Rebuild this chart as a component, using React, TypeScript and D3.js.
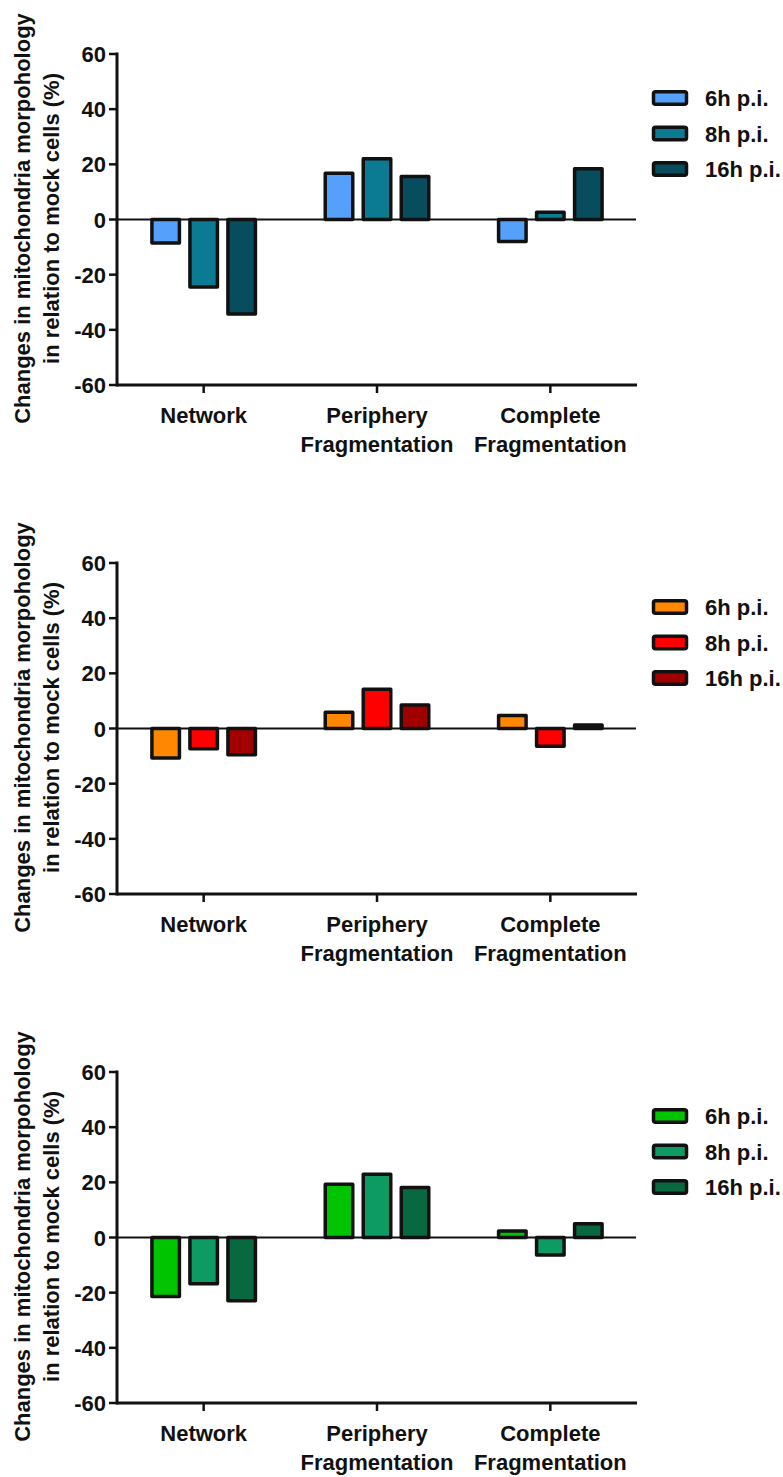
import React from "react";
import * as d3 from "d3";

// Categories and time points shared by all three panels
const categories = ["Network", "Periphery Fragmentation", "Complete Fragmentation"];
const series = ["6h p.i.", "8h p.i.", "16h p.i."];
const yTicks = [-60, -40, -20, 0, 20, 40, 60];

// Panel 1 (blue)
const blue6h = [-8.5, 16.8, -8];
const blue8h = [-24.5, 22, 2.6];
const blue16h = [-34.3, 15.6, 18.4];
const blueColors = ["#55a0fa", "#0b7a93", "#074d5d"];

// Panel 2 (red)
const red6h = [-10.7, 5.9, 4.7];
const red8h = [-7.3, 14.2, -6.4];
const red16h = [-9.5, 8.5, 1.3];
const redColors = ["#ff8800", "#ff0000", "#a00000"];

// Panel 3 (green)
const green6h = [-21.4, 19.3, 2.4];
const green8h = [-16.8, 22.9, -6.3];
const green16h = [-22.9, 18.1, 5.0];
const greenColors = ["#00c400", "#0e9a63", "#08683f"];

const panels = [
  { values: [blue6h, blue8h, blue16h], colors: blueColors },
  { values: [red6h, red8h, red16h], colors: redColors },
  { values: [green6h, green8h, green16h], colors: greenColors },
];

const W = 783;
const H = 1477;
const FONT = "'Liberation Sans', Arial, Helvetica, sans-serif";
const axisLeft = 117;
const axisRight = 637;
const panelTop = 54;
const panelHeight = 331;
const panelStep = 509;
const strokeW = 3.5;

function Panel({ values, colors, top }: { values: number[][]; colors: string[]; top: number }) {
  const y = d3.scaleLinear().domain([-60, 60]).range([top + panelHeight, top]);
  const x0 = d3.scaleBand<string>().domain(categories).range([axisLeft, axisRight]).padding(0);
  const x1 = d3
    .scaleBand<string>()
    .domain(series)
    .range([-51.75, 51.75])
    .paddingInner(0.2763)
    .paddingOuter(0);
  const midY = (y(60) + y(-60)) / 2;

  return (
    <g>
      {/* y-axis title */}
      <text
        transform={`translate(30,${midY - 1}) rotate(-90)`}
        textAnchor="middle"
        fontFamily={FONT}
        fontWeight="bold"
        fontSize={22}
        fill="#111"
      >
        Changes in mitochondria morpohology
      </text>
      <text
        transform={`translate(58.5,${midY - 1}) rotate(-90)`}
        textAnchor="middle"
        fontFamily={FONT}
        fontWeight="bold"
        fontSize={22}
        fill="#111"
      >
        in relation to mock cells (%)
      </text>

      {/* zero line */}
      <line x1={axisLeft} x2={axisRight - 1} y1={y(0)} y2={y(0)} stroke="#111" strokeWidth={2} />

      {/* bars */}
      {categories.map((cat, ci) => (
        <g key={cat}>
          {series.map((s, si) => {
            const v = values[si][ci];
            const cx = x0(cat)! + x0.bandwidth() / 2 + x1(s)!;
            const y0 = y(0);
            const y1 = y(v);
            return (
              <rect
                key={s}
                x={cx}
                width={x1.bandwidth()}
                y={Math.min(y0, y1)}
                height={Math.abs(y1 - y0)}
                fill={colors[si]}
                stroke="#111"
                strokeWidth={strokeW}
                strokeLinejoin="round"
              />
            );
          })}
        </g>
      ))}

      {/* y axis */}
      <line x1={axisLeft} x2={axisLeft} y1={y(60) - 1.5} y2={y(-60) + 1.5} stroke="#111" strokeWidth={3} />
      {yTicks.map((t) => (
        <g key={t}>
          <line x1={axisLeft - 8} x2={axisLeft} y1={y(t)} y2={y(t)} stroke="#111" strokeWidth={2.5} />
          <text
            x={axisLeft - 11}
            y={y(t) + 8}
            textAnchor="end"
            fontFamily={FONT}
            fontWeight="bold"
            fontSize={22}
            fill="#111"
          >
            {t}
          </text>
        </g>
      ))}

      {/* x axis */}
      <line x1={axisLeft} x2={axisRight} y1={y(-60)} y2={y(-60)} stroke="#111" strokeWidth={3} />
      {categories.map((cat) => {
        const cx = x0(cat)! + x0.bandwidth() / 2;
        const lines = cat.split(" ");
        return (
          <g key={cat}>
            <line x1={cx} x2={cx} y1={y(-60)} y2={y(-60) + 8} stroke="#111" strokeWidth={2.5} />
            {lines.map((ln, li) => (
              <text
                key={li}
                x={cx}
                y={y(-60) + 38 + li * 28.5}
                textAnchor="middle"
                fontFamily={FONT}
                fontWeight="bold"
                fontSize={22}
                fill="#111"
              >
                {ln}
              </text>
            ))}
          </g>
        );
      })}

      {/* legend */}
      {series.map((s, si) => {
        const cy = top + 44 + si * 35.5;
        return (
          <g key={s}>
            <rect
              x={653.5}
              y={cy - 6.25}
              width={33}
              height={12.5}
              rx={2}
              fill={colors[si]}
              stroke="#111"
              strokeWidth={strokeW}
            />
            <text x={705} y={cy + 8} fontFamily={FONT} fontWeight="bold" fontSize={22} fill="#111">
              {s}
            </text>
          </g>
        );
      })}
    </g>
  );
}

export default function App() {
  return (
    <svg
      width={W}
      height={H}
      viewBox={`0 0 ${W} ${H}`}
      style={{ position: "absolute", left: 0, top: 0, background: "#fff" }}
    >
      <rect width={W} height={H} fill="#fff" />
      {panels.map((p, i) => (
        <Panel key={i} values={p.values} colors={p.colors} top={panelTop + i * panelStep} />
      ))}
    </svg>
  );
}
